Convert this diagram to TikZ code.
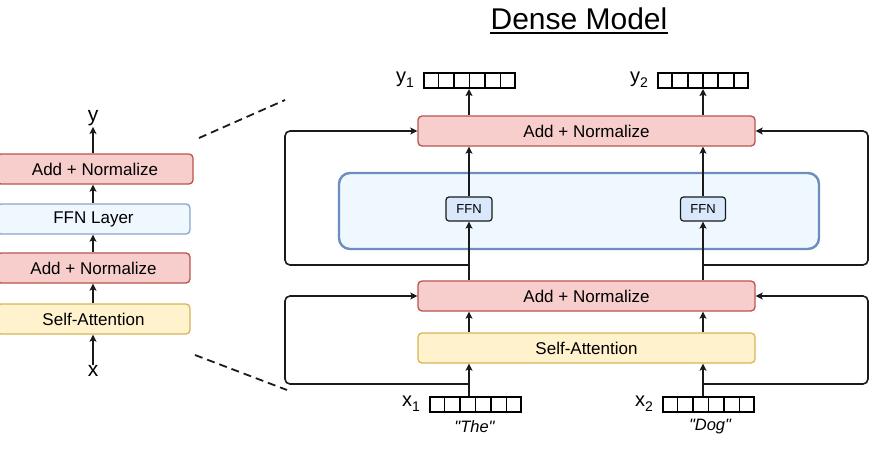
\documentclass[tikz,border=0pt]{standalone}
\usepackage{fontspec}
\setmainfont{Liberation Sans}
\usetikzlibrary{arrows.meta,calc}
\definecolor{redfill}{HTML}{F8CECC}
\definecolor{redline}{HTML}{B85450}
\definecolor{yelfill}{HTML}{FFF2CC}
\definecolor{yelline}{HTML}{D6B656}
\definecolor{bluefill}{HTML}{DAE8FC}
\definecolor{blueline}{HTML}{6C8EBF}
\definecolor{paleblue}{HTML}{EFF8FF}
\definecolor{ink}{HTML}{1A1A1A}
\definecolor{txt}{HTML}{000000}
\newcommand{\lbl}{\fontsize{17}{20}\selectfont}
\newcommand{\vlbl}[2]{\fontsize{20}{22}\selectfont #1\raisebox{-0.45ex}{\fontsize{14}{14}\selectfont #2}}
\tikzset{
  boxbase/.style={rounded corners=4pt, line width=1.3pt, inner sep=0pt, text=txt, font=\lbl},
  anbox/.style={boxbase, draw=redline, fill=redfill},
  sabox/.style={boxbase, draw=yelline, fill=yelfill},
  ffnlayer/.style={boxbase, draw=blueline!80, fill=paleblue},
  bigbox/.style={rounded corners=11pt, line width=2.4pt, draw=blueline, fill=paleblue, inner sep=0pt},
  ffnsmall/.style={rounded corners=3pt, line width=1.2pt, draw=ink, fill=bluefill, inner sep=0pt, text=txt, font=\fontsize{13}{14}\selectfont},
  arr/.style={line width=1.6pt, draw=ink, -{Stealth[length=7pt,width=7pt,inset=1.5pt]}},
  loopline/.style={arr, rounded corners=5pt},
  vec/.style={draw=black, line width=2pt, minimum width=#1, minimum height=15pt, inner sep=0pt},
  vecline/.style={draw=black, line width=1.7pt},
  dashline/.style={line width=1.8pt, draw=ink, dash pattern=on 8pt off 5pt},
  plain/.style={inner sep=0pt, text=txt}
}
\begin{document}
\begin{tikzpicture}[x=1pt,y=-1pt]
\useasboundingbox (0,0) rectangle (886,448);

% title
\node[plain, anchor=base, font=\fontsize{30}{34}\selectfont] (title) at (579,29) {Dense Model};
\draw[line width=2pt, black] ([yshift=-3.5pt]title.base west) -- ([yshift=-3.5pt]title.base east);

% ---------- left stack ----------
\node[anbox, minimum width=196pt, minimum height=30pt] (lan1) at (95,169) {Add + Normalize};
\node[ffnlayer, minimum width=193pt, minimum height=30pt] (lffn) at (93.5,219) {FFN Layer};
\node[anbox, minimum width=193pt, minimum height=30pt] (lan2) at (93.5,268) {Add + Normalize};
\node[sabox, minimum width=193pt, minimum height=30pt] (lsa) at (93.5,319) {Self-Attention};
\node[plain, font=\fontsize{21}{22}\selectfont] (ly) at (93,118) {y};
\node[plain, font=\fontsize{21}{22}\selectfont] (lx) at (93,371) {x};

\coordinate (lcol) at (93,0);
\draw[arr] (lx.north -| lcol) -- (lsa.south -| lcol);
\draw[arr] (lsa.north -| lcol) -- (lan2.south -| lcol);
\draw[arr] (lan2.north -| lcol) -- (lffn.south -| lcol);
\draw[arr] (lffn.north -| lcol) -- (lan1.south -| lcol);
\draw[arr] (lan1.north -| lcol) -- ([yshift=-1pt]ly.south -| lcol);

% dashed zoom lines
\coordinate (dt1) at (199,138);
\coordinate (dt2) at (285,100);
\coordinate (db1) at (195,355);
\coordinate (db2) at (287,390);
\draw[dashline] (dt1) -- (dt2);
\draw[dashline] (db1) -- (db2);

% ---------- dense model ----------
\node[bigbox, minimum width=480pt, minimum height=76pt] (big) at (579,211) {};
\node[anbox, minimum width=337pt, minimum height=30pt] (anT) at (586.5,131) {Add + Normalize};
\node[anbox, minimum width=337pt, minimum height=30pt] (anB) at (586.5,296) {Add + Normalize};
\node[sabox, minimum width=337pt, minimum height=30pt] (sa) at (586.5,348) {Self-Attention};
\node[ffnsmall, minimum width=46pt, minimum height=24pt] (f1) at (469,209) {FFN};
\node[ffnsmall, minimum width=45pt, minimum height=24pt] (f2) at (703,209) {FFN};

% vectors
\node[vec=91pt] (vy1) at (469.5,80.5) {};
\node[vec=90pt] (vy2) at (703,80.5) {};
\node[vec=91pt] (vx1) at (475.5,404.5) {};
\node[vec=91pt] (vx2) at (708.5,404.5) {};
\foreach \v in {vy1,vy2,vx1,vx2}{
  \foreach \i in {1,...,5}{
    \draw[vecline] ($(\v.north west)!\i/6!(\v.north east)$) -- ($(\v.south west)!\i/6!(\v.south east)$);
  }
}
\node[plain, anchor=east] (ty1) at ([xshift=-9pt,yshift=1pt]vy1.west) {\vlbl{y}{1}};
\node[plain, anchor=east] (ty2) at ([xshift=-9pt,yshift=1pt]vy2.west) {\vlbl{y}{2}};
\node[plain, anchor=east] (tx1) at ([xshift=-9pt,yshift=1pt]vx1.west) {\vlbl{x}{1}};
\node[plain, anchor=east] (tx2) at ([xshift=-9pt,yshift=1pt]vx2.west) {\vlbl{x}{2}};
\node[plain, font=\fontsize{16.5}{18}\selectfont\itshape, text=txt] (the) at (474.5,427) {\textquotedbl The\textquotedbl};
\node[plain, font=\fontsize{16.5}{18}\selectfont\itshape, text=txt] (dog) at (710,427) {\textquotedbl Dog\textquotedbl};

% columns
\coordinate (cL) at (469,0);
\coordinate (cR) at (703,0);
\coordinate (xl) at (285,0);
\coordinate (xr) at (868,0);
\coordinate (lt) at (469,265);
\coordinate (rt) at (703,265);
\coordinate (lb) at (469,384);
\coordinate (rb) at (703,384);

% vertical flow
\draw[arr] (vx1.north -| cL) -- (sa.south -| cL);
\draw[arr] (vx2.north -| cR) -- (sa.south -| cR);
\draw[arr] (sa.north -| cL) -- (anB.south -| cL);
\draw[arr] (sa.north -| cR) -- (anB.south -| cR);
\draw[arr] (anB.north -| cL) -- (f1.south);
\draw[arr] (anB.north -| cR) -- (f2.south);
\draw[arr] (f1.north) -- (anT.south -| f1.north);
\draw[arr] (f2.north) -- (anT.south -| f2.north);
\draw[arr] (anT.north -| cL) -- (vy1.south -| cL);
\draw[arr] (anT.north -| cR) -- (vy2.south -| cR);

% residual loops
\draw[loopline] (lb) -- (lb -| xl) -- (xl |- anB.west) -- (anB.west);
\draw[loopline] (rb) -- (rb -| xr) -- (xr |- anB.east) -- (anB.east);
\draw[loopline] (lt) -- (lt -| xl) -- (xl |- anT.west) -- (anT.west);
\draw[loopline] (rt) -- (rt -| xr) -- (xr |- anT.east) -- (anT.east);
\end{tikzpicture}
\end{document}
